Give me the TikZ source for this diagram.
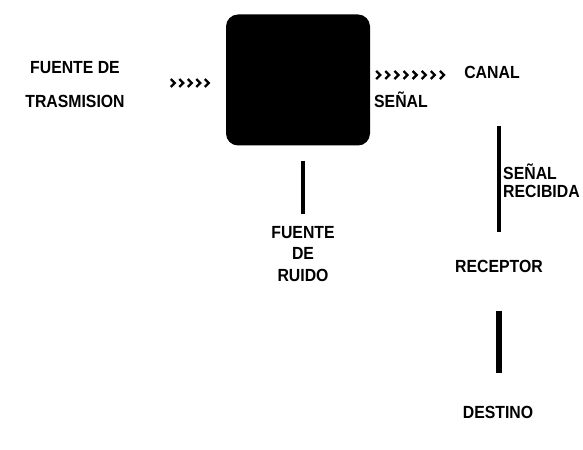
\documentclass[tikz,border=0pt]{standalone}
\usepackage{fontspec}
\setmainfont{Liberation Sans}[FakeStretch=0.9]
\usetikzlibrary{positioning}

\tikzset{
  lbl/.style={font=\bfseries\fontsize{15}{17}\selectfont, inner sep=0pt},
  chev/.style={line width=2pt},
  wire/.style={line width=#1}
}

\begin{document}
\begin{tikzpicture}[x=0.3mm, y=-0.3mm]
  \useasboundingbox (0,0) rectangle (583,450);

  %--- Transmisor (bloque negro) ---
  \node[fill=black, rounded corners=3.6mm, minimum width=43.2mm,
        minimum height=39.3mm, inner sep=0pt] (trans) at (298,80) {};

  %--- Fuente de trasmision ---
  \node[lbl, align=center] (fuente) at (75,85) {FUENTE DE\\[12pt]TRASMISION};
  \foreach \i in {1,...,5}
    \draw[chev] ([shift={(-63.5+\i*8.5,-1)}]trans.west) -- ++(4,4) -- ++(-4,4);

  %--- Canal ---
  \node[lbl] (canal) at (492,72) {CANAL};
  \foreach \i in {0,...,7}
    \draw[chev] ([shift={(6+\i*9.1,-9)}]trans.east) -- ++(4,4) -- ++(-4,4);
  \node[lbl] (senal) at (401,100) {SEÑAL};

  %--- Canal -> receptor ---
  \node[lbl] (receptor) at (499,266) {RECEPTOR};
  \draw[wire=2.6pt, shorten <=14.4mm, shorten >=8.2mm]
    (canal.south -| receptor.north) -- (receptor.north);
  \node[lbl, align=left, anchor=west] (recibida) at (503,181) {SEÑAL\\[-1.5pt]RECIBIDA};

  %--- Receptor -> destino ---
  \node[lbl] (destino) at (498,412) {DESTINO};
  \draw[wire=4.3pt, shorten <=11.5mm, shorten >=9.8mm]
    (receptor.south) -- (receptor.south |- destino.north);

  %--- Fuente de ruido ---
  \node[lbl, align=center] (ruido) at (303,254) {FUENTE\\[1pt]DE\\[1pt]RUIDO};
  \draw[wire=2.6pt, shorten <=4.5mm, shorten >=3.9mm]
    (trans.south -| ruido.north) -- (ruido.north);

\end{tikzpicture}
\end{document}
